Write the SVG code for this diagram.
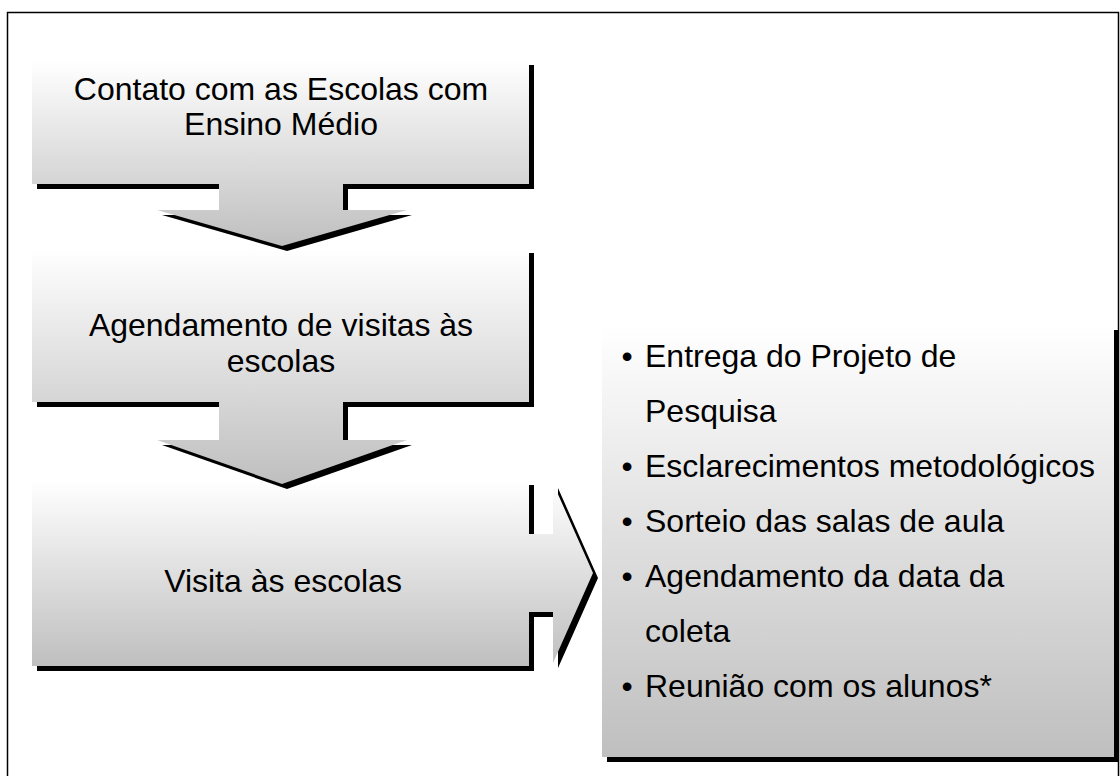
<svg xmlns="http://www.w3.org/2000/svg" width="1120" height="776" viewBox="0 0 1120 776">
  <defs>
    <linearGradient id="g" x1="0" y1="0" x2="0" y2="1">
      <stop offset="0" stop-color="#ffffff"/>
      <stop offset="1" stop-color="#bfbfbf"/>
    </linearGradient>
    <style>
      .shadow { fill: #000000; }
      .shape { fill: url(#g); stroke: none; }
      .t { font-family: "Liberation Sans", Arial, sans-serif; font-size: 32px; fill: #000000; }
      .c { text-anchor: middle; }
      .frame { fill: none; stroke: #000000; stroke-width: 1.5; }
    </style>
  </defs>
  <rect width="1120" height="776" fill="#ffffff"/>
  <rect class="frame" x="7.5" y="12.5" width="1111" height="800"/>

  <g id="node-list">
    <rect class="shadow" x="607" y="330" width="512" height="432"/>
    <rect class="shape" x="602" y="325" width="512" height="432"/>
    <text class="t c" x="627" y="367">•</text>
    <text class="t" x="645" y="367">Entrega do Projeto de</text>
    <text class="t" x="645" y="422">Pesquisa</text>
    <text class="t c" x="627" y="477">•</text>
    <text class="t" x="645" y="477">Esclarecimentos metodológicos</text>
    <text class="t c" x="627" y="532">•</text>
    <text class="t" x="645" y="532">Sorteio das salas de aula</text>
    <text class="t c" x="627" y="587">•</text>
    <text class="t" x="645" y="587">Agendamento da data da</text>
    <text class="t" x="645" y="642">coleta</text>
    <text class="t c" x="627" y="697">•</text>
    <text class="t" x="645" y="697">Reunião com os alunos*</text>
  </g>

  <g id="node-visita">
    <path class="shadow" transform="translate(5,5)" d="M32,480 H529 V534 H553 V483 L593,573 L553,663 V612 H529 V666 H32 Z"/>
    <path class="shape" d="M32,480 H529 V534 H553 V483 L593,573 L553,663 V612 H529 V666 H32 Z"/>
    <text class="t c" x="283" y="592">Visita às escolas</text>
  </g>

  <g id="node-agendamento">
    <path class="shadow" transform="translate(5,5)" d="M32,248 H529 V402 H343 V440 H407 L282,484 L157,440 H219 V402 H32 Z"/>
    <path class="shape" d="M32,248 H529 V402 H343 V440 H407 L282,484 L157,440 H219 V402 H32 Z"/>
    <text class="t c" x="281" y="336">Agendamento de visitas às</text>
    <text class="t c" x="281" y="372">escolas</text>
  </g>

  <g id="node-contato">
    <path class="shadow" transform="translate(5,5)" d="M32,60 H529 V184 H343 V210 H407 L282,246 L157,210 H219 V184 H32 Z"/>
    <path class="shape" d="M32,60 H529 V184 H343 V210 H407 L282,246 L157,210 H219 V184 H32 Z"/>
    <text class="t c" x="281" y="100">Contato com as Escolas com</text>
    <text class="t c" x="281" y="135">Ensino Médio</text>
  </g>

  <g id="connectors"/>
</svg>
